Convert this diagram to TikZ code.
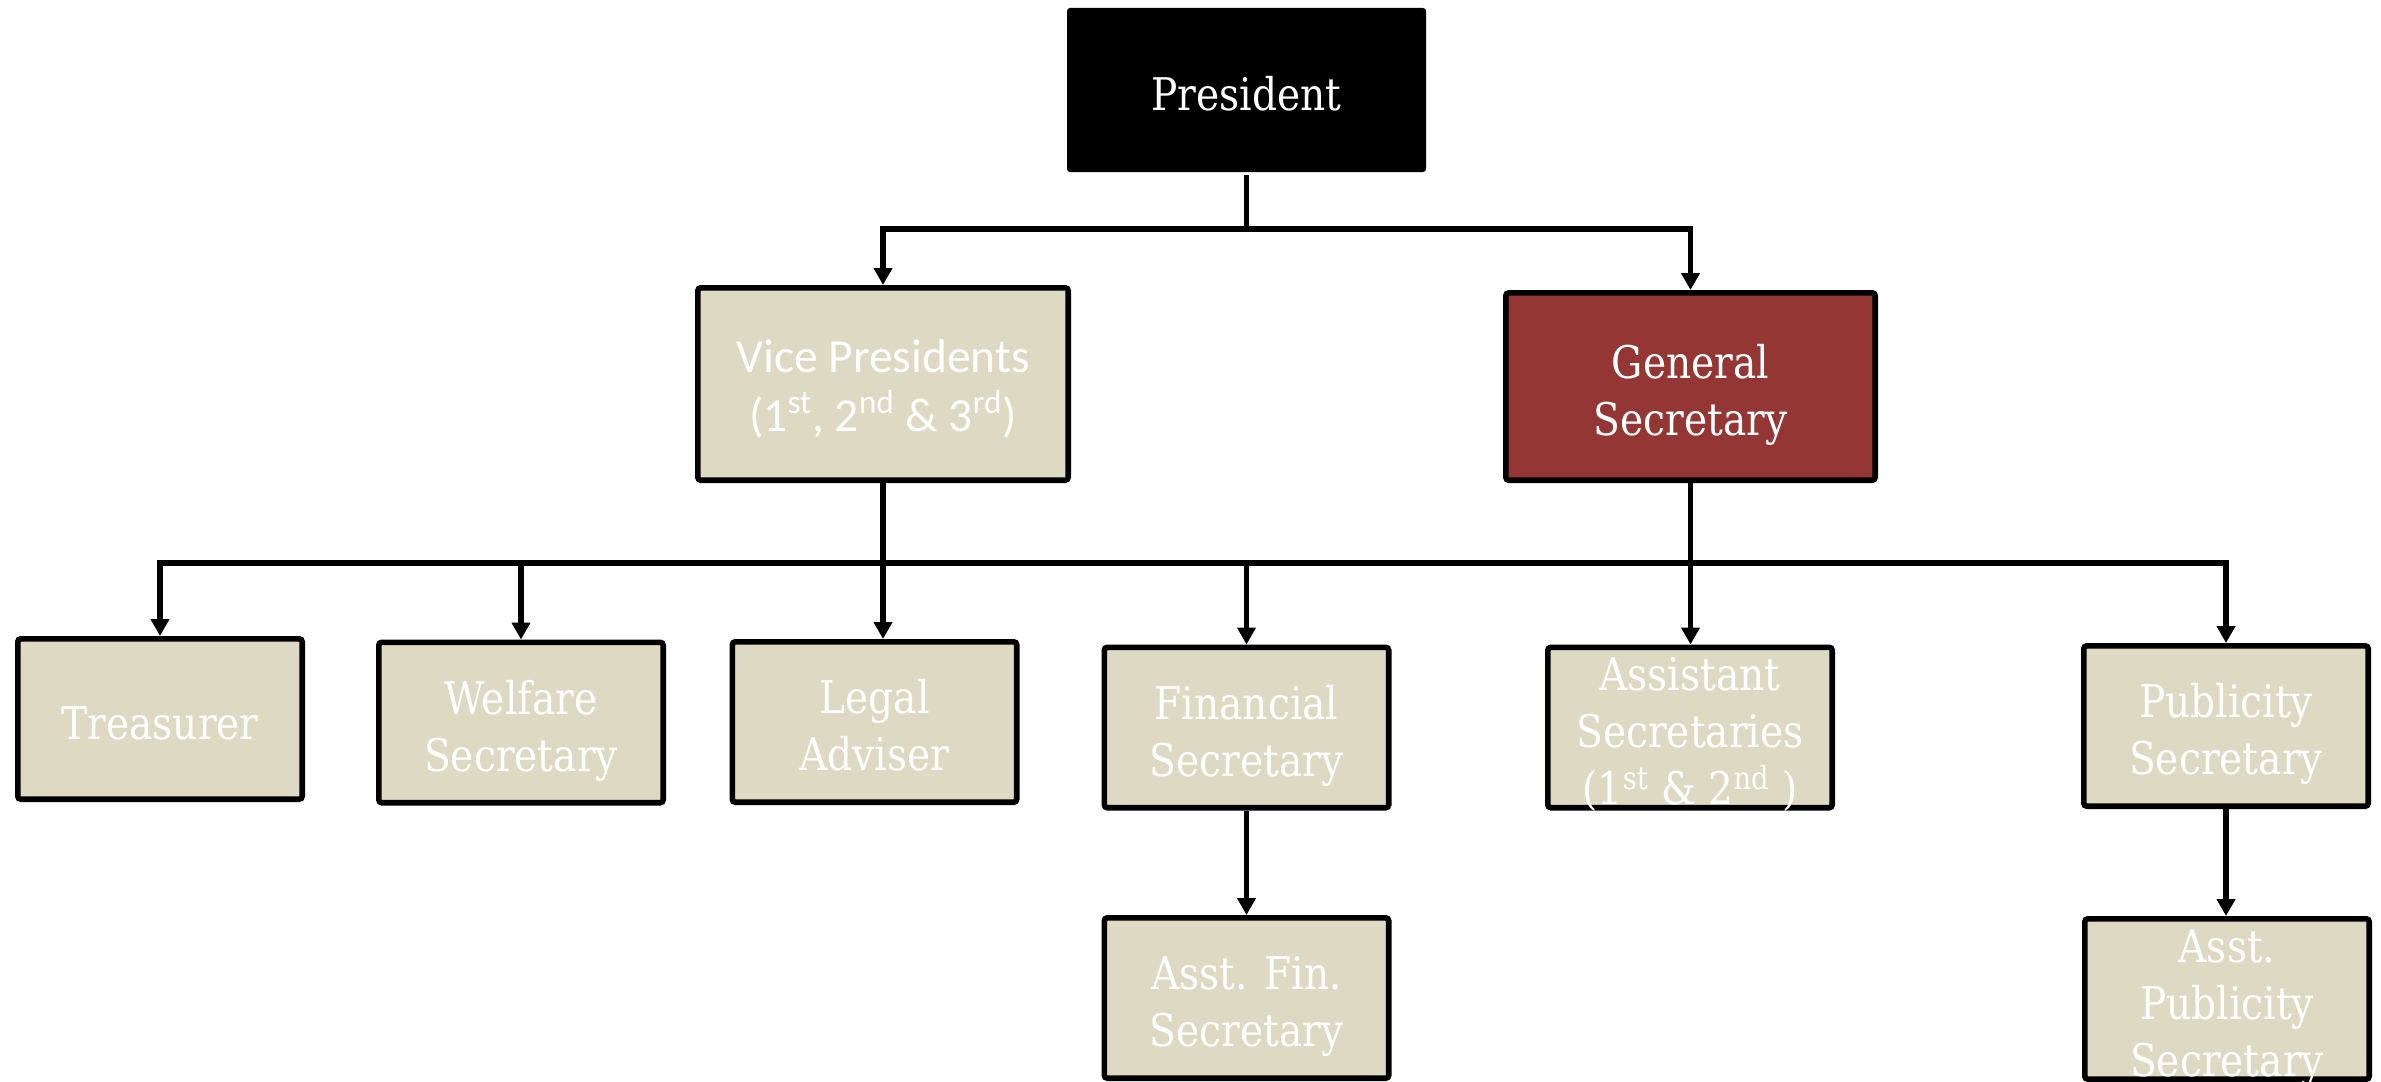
\documentclass[tikz,border=0pt]{standalone}
\usepackage{fontspec}
\newfontfamily\camfont[FakeStretch=0.87]{DejaVu Serif}
\newfontfamily\calfont{Carlito}
\usetikzlibrary{arrows.meta}
\definecolor{tanfill}{HTML}{DDD9C3}
\definecolor{secred}{HTML}{943634}
% centred block of lines that never enlarges its box
\newcommand\boxtext[1]{\smash{\raisebox{-9.5pt}{\begin{tabular}{@{}c@{}}#1\end{tabular}}}}

\begin{document}
\begin{tikzpicture}[x=0.5pt,y=-0.5pt,
  post/.style={draw=black, line width=2.8pt, fill=tanfill, rounded corners=1.5pt,
    inner sep=0pt, text=white,
    font=\camfont\fontsize{22.5pt}{28.5pt}\selectfont,
    minimum width=142.2pt, minimum height=80.2pt},
  head/.style={post, draw=none, fill=black, minimum width=179.5pt, minimum height=82pt},
  second/.style={post, minimum width=185.2pt, minimum height=96.2pt},
  link/.style={line width=2.7pt, draw=black},
  arrow/.style={link, -{Triangle[length=8.5pt,width=9pt]}}]

\useasboundingbox (0,0) rectangle (2381,1081);
\clip (0,0) rectangle (2381,1081);
\fill[white] (0,0) rectangle (2381,1081);

% top level
\node[head] (pres) at (1246.5,90) {\boxtext{President}};

% second level
\node[second, font=\calfont\fontsize{23.75pt}{29pt}\selectfont] (vp) at (883,384)
  {\boxtext{Vice Presidents\\(1\textsuperscript{st}, 2\textsuperscript{nd} \& 3\textsuperscript{rd})}};
\node[second, fill=secred, minimum width=184.7pt, minimum height=93.7pt] (gs) at (1690.5,386.5)
  {\boxtext{General\\Secretary}};

% officers
\node[post] (treas) at (160,719)    {\boxtext{Treasurer}};
\node[post] (welf)  at (521,722.5)  {\boxtext{Welfare\\Secretary}};
\node[post] (legal) at (874.5,722)  {\boxtext{Legal\\Adviser}};
\node[post] (fin)   at (1246.5,727.5) {\boxtext{Financial\\Secretary}};
\node[post] (asst)  at (1690,727.5) {\boxtext{Assistant\\Secretaries\\(1\textsuperscript{st} \& 2\textsuperscript{nd} )}};
\node[post] (pub)   at (2226,726)   {\boxtext{Publicity\\Secretary}};

% assistants
\node[post] (afin)  at (1246.5,998) {\boxtext{Asst. Fin.\\Secretary}};
\node[post] (apub)  at (2227,999)   {\boxtext{Asst.\\Publicity\\Secretary}};

% connectors
\coordinate (j1) at (pres.south |- 0,229);
\draw[link] (pres.south) -- (j1);
\draw[arrow] (j1) -| (vp.north);
\draw[arrow] (j1) -| (gs.north);

\coordinate (j2) at (vp.south |- 0,563);
\draw[link] (vp.south) -- (j2);
\draw[arrow] (j2) -- (legal.north -| j2);
\draw[arrow] (j2) -| (treas.north);
\draw[arrow] (j2) -| (welf.north);
\draw[arrow] (j2) -| (fin.north);
\draw[arrow] (j2) -| (pub.north);
\draw[arrow] (gs.south) -- (gs.south |- asst.north);

\draw[arrow] (fin.south) -- (afin.north);
\draw[arrow] (pub.south) -- (pub.south |- apub.north);
\end{tikzpicture}
\end{document}
